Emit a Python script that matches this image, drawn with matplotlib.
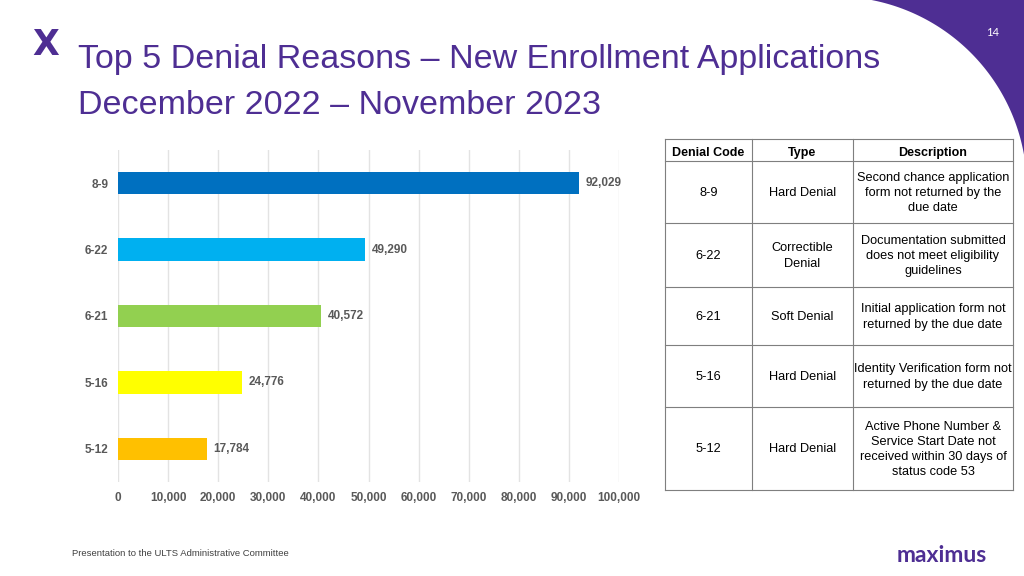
import matplotlib

matplotlib.use("Agg")

import matplotlib.pyplot as plt
import numpy as np
from matplotlib.patches import Polygon

plt.rcParams["font.family"] = ["Liberation Sans", "DejaVu Sans"]

# Données
codes = ["8-9", "6-22", "6-21", "5-16", "5-12"]
counts = [92029, 49290, 40572, 24776, 17784]
bar_colors = ["#0070C0", "#00B0F0", "#92D050", "#FFFF00", "#FFC000"]
x_ticks = [0, 10000, 20000, 30000, 40000, 50000, 60000, 70000, 80000, 90000, 100000]

table_header = ["Denial Code", "Type", "Description"]
table_types = ["Hard Denial", "Correctible\nDenial", "Soft Denial", "Hard Denial", "Hard Denial"]
table_desc = [
    "Second chance application\nform not returned by the\ndue date",
    "Documentation submitted\ndoes not meet eligibility\nguidelines",
    "Initial application form not\nreturned by the due date",
    "Identity Verification form not\nreturned by the due date",
    "Active Phone Number &\nService Start Date not\nreceived within 30 days of\nstatus code 53",
]

title_1 = "Top 5 Denial Reasons \u2013 New Enrollment Applications"
title_2 = "December 2022 \u2013 November 2023"
footer = "Presentation to the ULTS Administrative Committee"

PURPLE = "#4E2E93"
GRAY = "#595959"

W, H = 1024, 576
fig = plt.figure(figsize=(W / 100, H / 100), dpi=100)

# calque de décor en coordonnées pixels
deco = fig.add_axes([0, 0, 1, 1], zorder=0)
deco.set_xlim(0, W)
deco.set_ylim(H, 0)
deco.axis("off")

# coin violet en haut à droite
cx, cy, r = 835, 188.5, 192
t0 = np.arctan2(0 - cy, 870 - cx)
t1 = np.arctan2(160 - cy, 1040 - cx)
tt = np.linspace(t0, t1, 100)
arc = np.column_stack([cx + r * np.cos(tt), cy + r * np.sin(tt)])
pts = np.vstack([[[860, -5]], arc, [[1030, 200], [1030, -5]]])
deco.add_patch(Polygon(pts, closed=True, color="#4E2E93", lw=0))
deco.text(993, 32, "14", color="white", fontsize=8, ha="center", va="center",
          family=["Lato", "DejaVu Sans"])

# logo X
deco.text(46, 45, "X", color=PURPLE, fontsize=25, fontweight="heavy",
          ha="center", va="center", family=["DejaVu Sans"])

# titre
deco.text(78, 68, title_1, color=PURPLE, fontsize=24.5, ha="left", va="baseline")
deco.text(78, 114, title_2, color=PURPLE, fontsize=24.5, ha="left", va="baseline")

# pied de page
deco.text(72, 553, footer, color="#404040", fontsize=6.8, ha="left", va="center")
deco.text(942, 555, "maximus", color=PURPLE, fontsize=16.5, fontweight="bold",
          ha="center", va="center", family=["Lato", "DejaVu Sans"])

# tableau
col_x = [665, 752, 853, 1013]
row_y = [139, 161, 223, 287, 345, 407, 490]
for x in col_x:
    deco.plot([x, x], [row_y[0], row_y[-1]], color="#7F7F7F", lw=0.8)
for y in row_y:
    deco.plot([col_x[0], col_x[-1]], [y, y], color="#7F7F7F", lw=0.8)

centers_x = [(col_x[i] + col_x[i + 1]) / 2 for i in range(3)]
for j, h in enumerate(table_header):
    deco.text(centers_x[j], (row_y[0] + row_y[1]) / 2 + 3, h, fontsize=9,
              fontweight="bold", ha="center", va="center", color="black")
for i in range(len(codes)):
    yc = (row_y[i + 1] + row_y[i + 2]) / 2 + 1
    row = [codes[i], table_types[i], table_desc[i]]
    for j, txt in enumerate(row):
        deco.text(centers_x[j], yc, txt, fontsize=9.2, ha="center", va="center",
                  color="black", linespacing=1.35)

# graphique en barres
ax = fig.add_axes([118 / W, 1 - 482 / H, (619 - 118) / W, (482 - 150) / H], zorder=1)
ax.patch.set_alpha(0)
y = np.arange(len(codes))
ax.barh(y, counts, height=0.34, color=bar_colors, zorder=3)
for yi, v in zip(y, counts):
    ax.text(v + 1300, yi, f"{v:,}", fontsize=8.5, fontweight="bold", color=GRAY,
            ha="left", va="center")

ax.set_xlim(0, 100000)
ax.set_ylim(len(codes) - 0.5, -0.5)
ax.set_xticks(x_ticks)
ax.set_xticklabels([f"{t:,}" for t in x_ticks], fontsize=8.5, fontweight="bold", color=GRAY)
ax.set_yticks(y)
ax.set_yticklabels(codes, fontsize=8.5, fontweight="bold", color=GRAY)
ax.tick_params(axis="both", length=0)
ax.tick_params(axis="x", pad=7)
ax.tick_params(axis="y", pad=7)
ax.grid(True, axis="x", color="#E3E3E3", lw=1, zorder=0)
for s in ax.spines.values():
    s.set_visible(False)

fig.savefig("out.png", dpi=100)
